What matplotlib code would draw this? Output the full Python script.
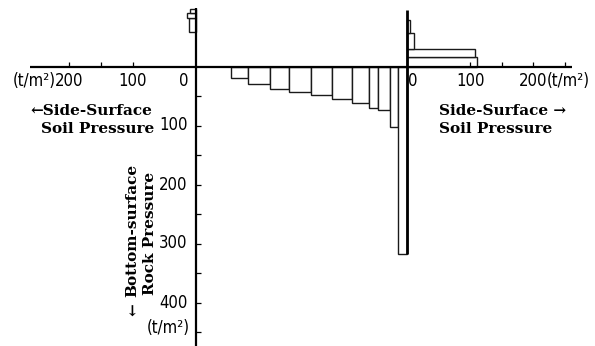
import matplotlib
matplotlib.use('Agg')
import matplotlib.pyplot as plt
from matplotlib import font_manager
import numpy as np

# ---------------- data ----------------
# stations along the base (drawing units) and bottom-surface rock pressure (t/m2)
base_edges = [56.3, 83.8, 118.3, 148.9, 182.9, 216.2, 248.9, 275.4, 290.2, 308.7, 321.9, 336.0]
rock_pressure = [20, 29, 38, 43.5, 48.5, 55, 62, 70, 73.5, 102, 318]

# right wall: depth levels (drawing units) and side-surface soil pressure (t/m2)
right_levels = [0, 15.6, 29.2, 57.3, 78.8]
right_pressure = [110.5, 107, 11.6, 5]

# left wall: depth levels and side-surface soil pressure (t/m2)
left_levels = [58.5, 82.2, 90.7, 97]
left_pressure = [10.6, 13.3, 9]

wall_x = 336.0

h_ticks_left = [100, 150, 200]
h_ticks_right = [100, 150, 200, 250]
h_labels_left = [100, 200]
h_labels_right = [100, 200]
v_major = [100, 200, 300, 400]
v_minor = [50, 150, 250, 350, 450]

# ---------------- fonts ----------------
num_font = None
for f in font_manager.fontManager.ttflist:
    n = f.name.lower()
    st = str(f.stretch).lower()
    if ('narrow' in n or 'condensed' in n or st in ('condensed', 'semi-condensed', 'extra-condensed')
            or (isinstance(f.stretch, int) and f.stretch < 500)) and f.style == 'normal' \
            and f.weight in (400, 'normal', 'regular', 'book'):
        if 'sans' in n or 'roboto' in n or 'narrow' in n:
            num_font = f.fname
            break
if num_font is not None:
    NUMFP = dict(fontproperties=font_manager.FontProperties(fname=num_font, size=12))
else:
    NUMFP = dict(family=['Liberation Sans', 'DejaVu Sans'], fontsize=11.5)

# ---------------- layout ----------------
W, H = 595, 346
X0, Y0 = 195.5, 66.5      # pixel position of origin
SX, SY = 0.63, 0.59       # pixels per t/m2

fig = plt.figure(figsize=(W / 100, H / 100), dpi=100)
ax = fig.add_axes([0, 0, 1, 1])
ax.set_xlim(-X0 / SX, (W - X0) / SX)
ax.set_ylim(-(H - Y0) / SY, Y0 / SY)
ax.axis('off')

def fx(px):
    return (px - X0) / SX

def fy(py):
    return (Y0 - py) / SY

edge = '#1a1a1a'
barlw = 1.0

# bottom-surface rock pressure
ax.bar(base_edges[:-1], [-p for p in rock_pressure], width=np.diff(base_edges),
       align='edge', bottom=0, facecolor='white', edgecolor=edge, lw=barlw, zorder=2)
# right side-surface soil pressure
ax.barh(right_levels[:-1], right_pressure, height=np.diff(right_levels), left=wall_x,
        align='edge', facecolor='white', edgecolor=edge, lw=barlw, zorder=2)
# left side-surface soil pressure
ax.barh(left_levels[:-1], [-p for p in left_pressure], height=np.diff(left_levels), left=0,
        align='edge', facecolor='white', edgecolor=edge, lw=barlw, zorder=2)

# axis lines
ax.plot([fx(30), fx(572)], [0, 0], color='black', lw=1.6, zorder=3, solid_capstyle='butt')
ax.plot([0, 0], [fy(8), fy(346)], color='black', lw=1.6, zorder=3, solid_capstyle='butt')
ax.plot([wall_x, wall_x], [fy(10), -rock_pressure[-1]], color='black', lw=2.0, zorder=3,
        solid_capstyle='butt')

# tick marks
tk = dict(ls='none', color='black', ms=3.5, mew=0.9, zorder=3)
ax.plot([-v for v in h_ticks_left], [0] * len(h_ticks_left), marker=2, **tk)
ax.plot([wall_x + v for v in h_ticks_right], [0] * len(h_ticks_right), marker=2, **tk)
ax.plot([0] * len(v_major), [-v for v in v_major], marker=1, **tk)
ax.plot([0] * len(v_minor), [-v for v in v_minor], marker=1, **tk)

# tick labels
num = dict(color='black', **NUMFP)
ylab = fy(81.5)
ax.text(fx(184), ylab, '0', ha='center', va='center', **num)
for v in h_labels_left:
    ax.text(-v, ylab, str(v), ha='center', va='center', **num)
ax.annotate('(t/m²)', xy=(-h_labels_left[-1], ylab), xytext=(-9.5, 0),
            textcoords='offset points', ha='right', va='center', **num)
ax.text(wall_x + fx(413) - fx(407.7), ylab, '0', ha='center', va='center', **num)
for v in h_labels_right:
    ax.text(wall_x + v, ylab, str(v), ha='center', va='center', **num)
ax.annotate('(t/m²)', xy=(wall_x + h_labels_right[-1], ylab), xytext=(9.5, 0),
            textcoords='offset points', ha='left', va='center', **num)
for v in v_major:
    ax.text(fx(187.5), -v, str(v), ha='right', va='center', **num)
ax.text(fx(190), fy(328), '(t/m²)', ha='right', va='center', **num)

# descriptive labels
lab = dict(family=['DejaVu Serif'], fontsize=11, fontweight='bold', color='black')

def ftext(px, py, s, **kw):
    fig.text(px / W, 1 - py / H, s, **lab, **kw)

ftext(152, 115, '←Side-Surface', ha='right', va='baseline')
ftext(154, 133, 'Soil Pressure', ha='right', va='baseline')
ftext(439, 115, 'Side-Surface →', ha='left', va='baseline')
ftext(439, 133, 'Soil Pressure', ha='left', va='baseline')
ftext(132, 297, 'Bottom-surface', ha='center', va='bottom', rotation=90)
ftext(150, 295, 'Rock Pressure', ha='center', va='bottom', rotation=90)
ftext(132, 313, '↓', ha='center', va='center')

fig.savefig('out.png', dpi=100, facecolor='white')
